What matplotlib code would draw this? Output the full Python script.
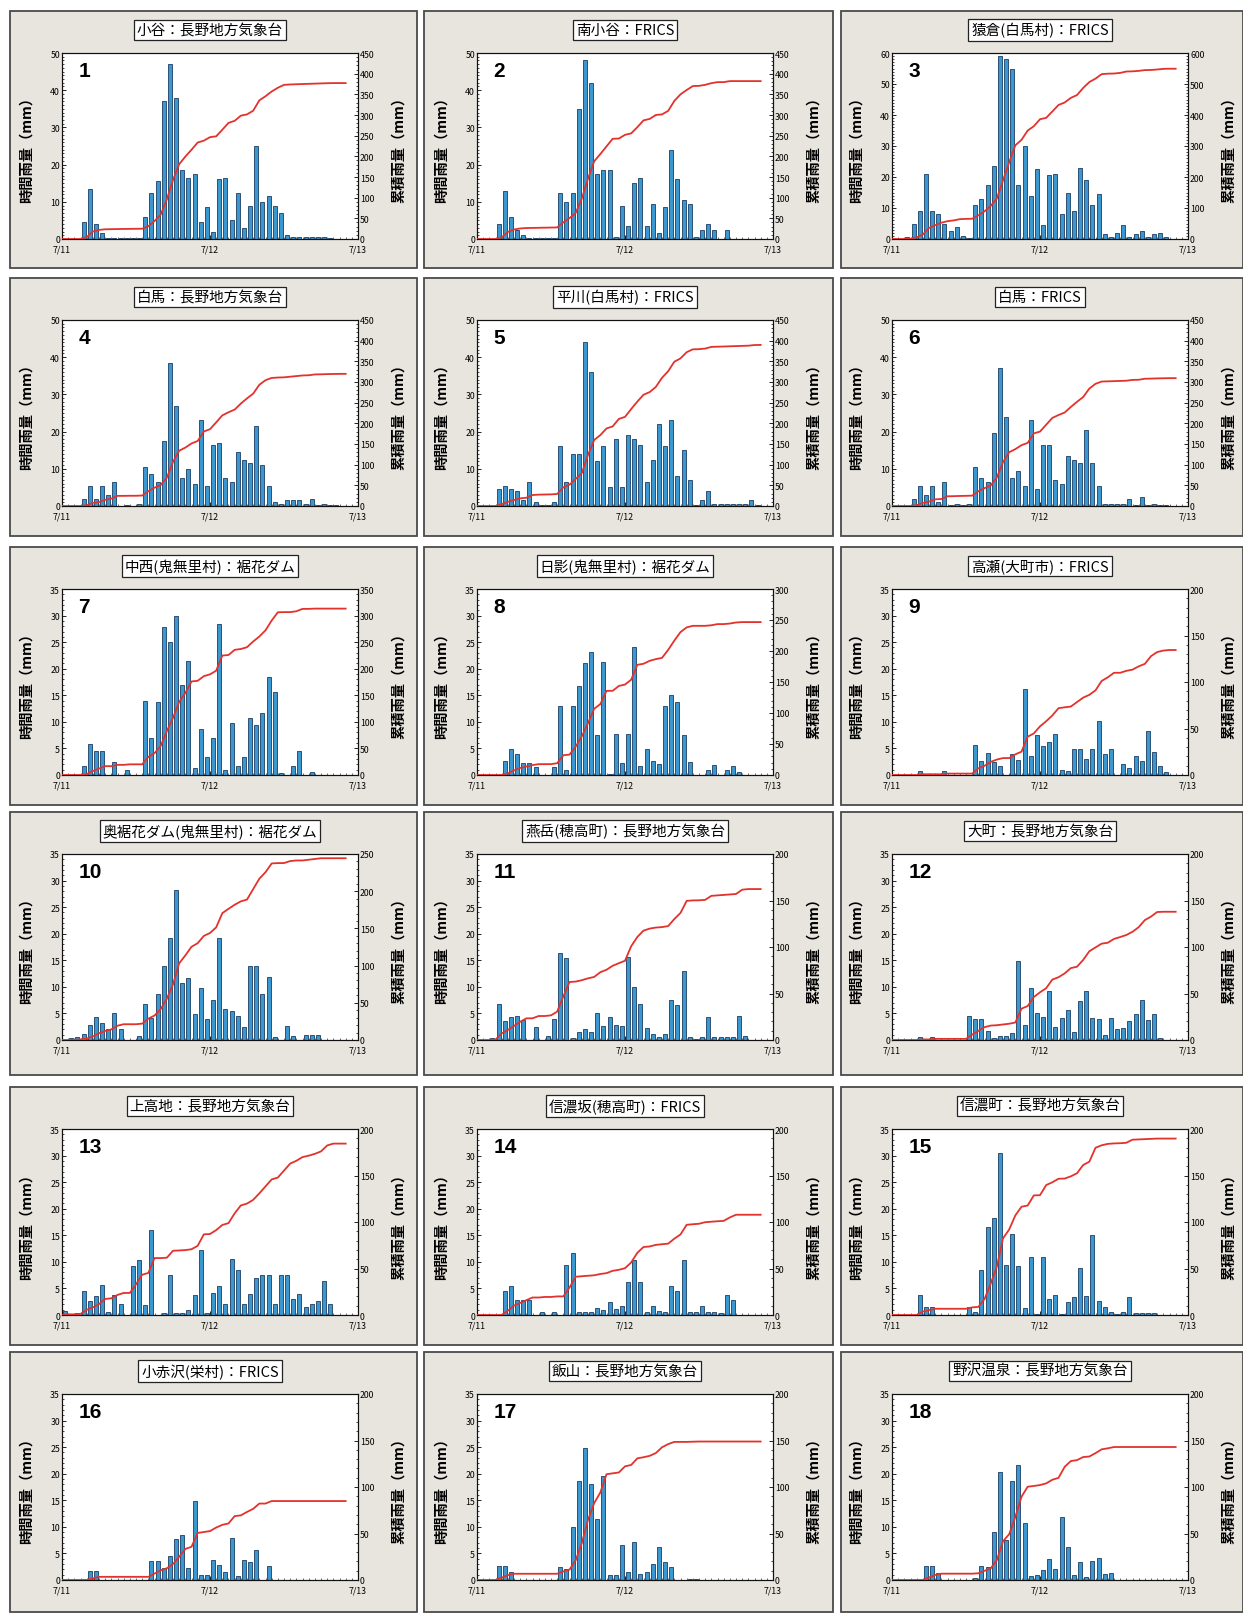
import numpy as np
import matplotlib
matplotlib.use('Agg')
import matplotlib.pyplot as plt
from matplotlib.patches import Rectangle
from matplotlib.ticker import MultipleLocator

plt.rcParams['font.family'] = ['Noto Sans CJK JP', 'DejaVu Sans']

# ---------------- data ----------------
hours = np.arange(48)                # hourly slots from 7/11 00:00
date_ticks = [0, 24, 48]
date_labels = ['7/11', '7/12', '7/13']

titles = ['小谷：長野地方気象台', '南小谷：FRICS', '猿倉(白馬村)：FRICS',
          '白馬：長野地方気象台', '平川(白馬村)：FRICS', '白馬：FRICS',
          '中西(鬼無里村)：裾花ダム', '日影(鬼無里村)：裾花ダム', '高瀬(大町市)：FRICS',
          '奥裾花ダム(鬼無里村)：裾花ダム', '燕岳(穂高町)：長野地方気象台', '大町：長野地方気象台',
          '上高地：長野地方気象台', '信濃坂(穂高町)：FRICS', '信濃町：長野地方気象台',
          '小赤沢(栄村)：FRICS', '飯山：長野地方気象台', '野沢温泉：長野地方気象台']

rain_01 = [0,0,0,4.5,13.5,4,1.5,0.3,0.3,0.2,0.2,0.2,0.2,6,12.5,15.5,37,47,38,18.5,16.5,17.5,4.5,8.5,2,16,16.5,5,12.5,3,9,25,10,11.5,9,7,1,0.5,0.5,0.5,0.5,0.5,0.5,0.3,0,0,0,0]
rain_02 = [0,0,0,4,13,6,2.5,1,0.3,0.3,0.3,0.3,0.3,12.5,10,12.5,35,48,42,17.5,18.5,18.5,0.5,9,3.5,15,16.5,3.5,9.5,1.5,8.5,24,16,10.5,9.5,0.5,2.5,4,2.5,0,2.5,0,0,0,0,0,0,0]
rain_03 = [0,0,0.5,5,9,21,9,8,5,2.5,4,1,0.3,11,13,17.5,23.5,59,58,55,17.5,30,14,22.5,4.5,20.5,21,8,15,9,23,19,11,14.5,1.5,0.5,2,4.5,0.5,1.5,2.5,0.5,1.5,2,0.5,0,0,0]
rain_04 = [0,0,0,2,5.5,2,5.5,3,6.5,0,0.3,0,0.5,10.5,8.5,6.5,17.5,38.5,27,7.5,10,6,23,5.5,16.5,17,7.5,6.5,14.5,12.5,11.5,21.5,11,5.5,1,0.5,1.5,1.5,1.5,0.5,2,0.3,0.5,0.3,0.3,0,0,0]
rain_05 = [0,0,0,4.5,5.5,4.5,4,1.5,6.5,1,0.3,0.3,1,16,6.5,14,14,44,36,12,16,5,18,5,19,18,16.5,6.5,12.5,22,16,23,8,15,7,0.3,1.5,4,0.5,0.5,0.5,0.5,0.5,0.5,1.5,0.3,0,0]
rain_06 = [0,0,0,2,5.5,3,5.5,1,6.5,0.3,0.5,0.3,0.5,10.5,7.5,6.5,19.5,37,24,7.5,9.5,5.5,23,4.5,16.5,16.5,7,6,13.5,12.5,11.5,20.5,11.5,5.5,0.5,0.5,0.5,0.5,2,0.3,2.5,0.3,0.5,0.3,0.3,0,0,0]
rain_07 = [0,0,0,1.7,5.8,4.6,4.5,0,2.5,0,1,0,0,14,6.9,13.7,27.8,25,30,17,21.5,1.3,8.7,3.4,6.9,28.5,1,9.7,1.6,3.4,10.7,9.4,11.6,18.4,15.6,0.3,0,1.6,4.5,0,0.5,0,0,0,0,0,0,0]
rain_08 = [0,0,0,0,2.6,4.8,4,2.3,2.3,1.5,0,0,1.5,12.9,1,12.9,16.8,21,23.2,7.6,21.3,0.1,7.8,2.3,7.8,24,1.7,4.8,2.7,2,12.9,15,13.7,7.6,2.5,0,0,0.9,1.9,0,0.9,1.7,0.6,0,0,0,0,0]
rain_09 = [0,0,0,0,0.8,0,0,0,0.7,0,0,0,0,5.7,2.7,4.2,2.5,1.6,0,4,2.9,16.1,3.5,7.6,5.5,6.2,7.8,1,0.8,4.8,4.8,3,4.8,10.1,4,4.8,0,2.1,1.3,3.5,2.7,8.3,4.4,1.6,0.6,0,0,0]
rain_10 = [0,0.3,0.5,1.1,2.8,4.3,3.2,2,5,2,0,0,0.8,6.7,4.2,8.6,14,19.2,28.3,10.7,11.6,4.8,9.8,3.9,7.6,19.1,5.8,5.5,4.5,2.5,14,14,8.7,11.8,0.5,0,2.7,0.8,0,1,1,1,0,0,0,0,0,0]
rain_11 = [0,0,0.4,6.8,3.6,4.3,4.5,3.7,0,2.5,0,0.7,4,16.4,15.5,0.4,1.5,2,1.5,5.1,2.6,4.3,2.8,2.6,15.6,10,6.8,2.2,1.1,0.5,1.1,7.6,6.5,13,0.5,0.1,0.5,4.3,0.5,0.5,0.5,0.5,4.6,0.7,0,0,0,0]
rain_12 = [0,0,0,0,0.6,0,0.6,0,0,0,0,0,4.6,4,4,1.7,0.4,0.8,0.8,1.3,14.9,2.8,9.7,5.1,4.4,9.3,2.5,4.1,5.7,1.5,7.3,9.3,4.2,4,1,4.1,2,2.2,3.5,4.9,7.6,3.8,4.9,0.3,0,0,0,0]
rain_13 = [0.7,0,0.4,4.5,2.6,3.5,5.6,0.6,3.7,2.1,0,9.3,10.3,1.9,16,0,0.4,7.5,0.3,0.4,0.9,3.7,12.3,0.4,4.2,5.5,2,10.5,8.5,2,4,7,7.5,7.5,2,7.5,7.5,3,4,1.5,2,2.6,6.4,2,0,0,0,0]
rain_14 = [0,0,0,0,4.6,5.5,2.9,2.9,2.9,0,0.6,0,0.6,0,9.5,11.6,0.6,0.5,0.5,1.4,0.9,2.5,1.1,1.7,6.2,10.4,6.2,0.6,1.7,0.7,0.6,5.4,4.5,10.4,0.6,0.5,1.7,0.5,0.5,0.4,3.7,2.9,0,0,0,0,0,0]
rain_15 = [0,0,0,0,3.7,1.5,1.5,0,0,0,0,0,1.5,0.5,8.4,16.6,18.2,30.5,9.5,15.2,9.3,1.3,10.9,0.2,10.9,3,3.8,0.2,2.4,3.3,8.9,3.5,15,2.7,1.5,0.5,0.2,0.5,3.3,0.3,0.3,0.3,0.3,0,0,0,0,0]
rain_16 = [0,0,0,0,1.7,1.7,0,0,0,0,0,0,0,0,3.5,3.5,2.2,4.6,7.7,8.5,2.3,14.9,1,1,3.8,2.9,1.5,7.9,0.8,3.7,3.3,5.7,0,2.7,0,0,0,0,0,0,0,0,0,0,0,0,0,0]
rain_17 = [0,0,0,2.6,2.6,1.5,0,0,0,0,0,0,0,2.5,2,9.9,18.6,24.9,18,11.5,19.6,1,0.9,6.6,1.5,7.1,1.2,1.5,3,6.2,3.4,2.4,0,0,0.2,0.2,0,0,0,0,0,0,0,0,0,0,0,0]
rain_18 = [0,0,0,0,0,2.7,2.7,1.4,0,0,0,0,0,0.4,2.7,2.5,9,20.3,7.5,18.6,21.7,10.8,0.8,1,1.8,3.9,2,11.9,6.2,1,3.3,0.6,3.6,4.1,1.1,1.4,0,0,0,0,0,0,0,0,0,0,0,0]

hourly = [rain_01, rain_02, rain_03, rain_04, rain_05, rain_06, rain_07, rain_08, rain_09,
          rain_10, rain_11, rain_12, rain_13, rain_14, rain_15, rain_16, rain_17, rain_18]

left_max = [50, 50, 60, 50, 50, 50] + [35] * 12
left_step = [10] * 6 + [5] * 12
right_max = [450, 450, 600, 450, 450, 450, 350, 300, 200, 250, 200, 200, 200, 200, 200, 200, 200, 200]
right_step = [50, 50, 100, 50, 50, 50] + [50] * 12
line_end_hour = 46

# ---------------- layout (pixels) ----------------
W, H = 1243, 1615
fig = plt.figure(figsize=(W / 100, H / 100), dpi=100)
fig.patch.set_facecolor('white')

col_box_x = [10, 424, 841]
col_box_w = [407, 409, 402]
col_plot_x = [62, 477, 892]
row_box_top = [12, 279, 548, 813, 1088, 1353]
row_box_h = [257, 258, 258, 263, 258, 260]
plot_w, plot_h = 296, 186

bar_face = '#3a97d0'
bar_edge = '#1b3d63'
line_col = '#e3322c'

for k in range(18):
    r, c = divmod(k, 3)
    bx, by = col_box_x[c], row_box_top[r]
    bw, bh = col_box_w[c], row_box_h[r]
    fig.patches.append(Rectangle((bx / W, 1 - (by + bh) / H), bw / W, bh / H,
                                 transform=fig.transFigure, facecolor='#e8e5df',
                                 edgecolor='#4a4a4a', linewidth=1.3, zorder=-5))
    px = col_plot_x[c]
    py = by + 42
    ax = fig.add_axes([px / W, 1 - (py + plot_h) / H, plot_w / W, plot_h / H])
    ax.set_facecolor('white')

    vals = np.array(hourly[k], dtype=float)
    ax.bar(hours + 0.5, vals, width=0.64, color=bar_face, edgecolor=bar_edge,
           linewidth=0.6, zorder=2)
    ax.set_xlim(0, 48)
    ax.set_ylim(0, left_max[k])
    ax.set_yticks(np.arange(0, left_max[k] + 0.1, left_step[k]))
    ax.yaxis.set_minor_locator(MultipleLocator(1))
    ax.set_xticks(date_ticks)
    ax.set_xticklabels(date_labels)
    ax.xaxis.set_minor_locator(MultipleLocator(1))
    ax.tick_params(axis='y', which='major', direction='in', length=3, width=0.6,
                   labelsize=6.3, pad=1.5)
    ax.tick_params(axis='y', which='minor', direction='in', length=1.5, width=0.5)
    ax.tick_params(axis='x', which='major', direction='in', length=3, width=0.6,
                   labelsize=6.3, pad=4)
    ax.tick_params(axis='x', which='minor', direction='in', length=1.2, width=0.4)
    for s in ax.spines.values():
        s.set_linewidth(0.8)
        s.set_color('#111111')

    ax2 = ax.twinx()
    cum = np.concatenate([[0.0], np.cumsum(vals)])
    xs = np.arange(line_end_hour + 1)
    ax2.plot(xs, cum[:line_end_hour + 1], color=line_col, linewidth=1.3, zorder=3)
    ax2.set_ylim(0, right_max[k])
    ax2.set_yticks(np.arange(0, right_max[k] + 0.1, right_step[k]))
    ax2.yaxis.set_minor_locator(MultipleLocator(10))
    ax2.tick_params(axis='y', which='major', direction='in', length=3, width=0.6,
                    labelsize=6.3, pad=1.5)
    ax2.tick_params(axis='y', which='minor', direction='in', length=1.5, width=0.5)
    for s in ax2.spines.values():
        s.set_linewidth(0.8)
        s.set_color('#111111')

    ax.text(-0.118, 0.5, '時間雨量（mm）', rotation=90, transform=ax.transAxes,
            ha='center', va='center', fontsize=10.3, fontweight='bold')
    ax.text(1.138, 0.5, '累積雨量（mm）', rotation=90, transform=ax.transAxes,
            ha='center', va='center', fontsize=10.3, fontweight='bold')
    ax.text(0.055, 0.905, str(k + 1), transform=ax.transAxes, ha='left', va='center',
            fontsize=15, fontweight='bold', family=['Liberation Sans', 'DejaVu Sans'],
            zorder=5)

    fig.text((px + plot_w / 2) / W, 1 - (by + 19) / H, titles[k], ha='center',
             va='center', fontsize=10.5,
             bbox=dict(boxstyle='square,pad=0.2', facecolor='white',
                       edgecolor='#222222', linewidth=0.9))

fig.savefig('out.png', dpi=100, facecolor='white')
